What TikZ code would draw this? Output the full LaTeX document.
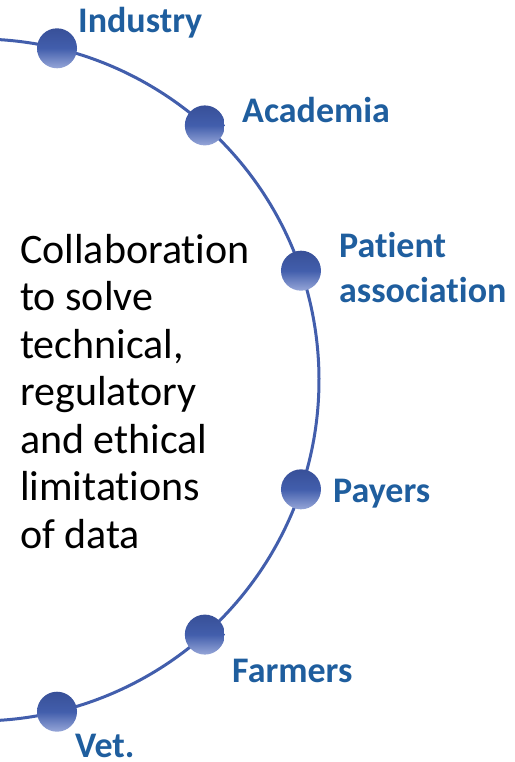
\documentclass[tikz,border=0pt]{standalone}
\usepackage{fontspec}
\setmainfont{Carlito}[Ligatures=NoCommon]
\usetikzlibrary{positioning}
\definecolor{arcblue}{RGB}{66,94,172}
\definecolor{labelblue}{RGB}{31,94,158}
\definecolor{balltop}{RGB}{56,80,152}
\definecolor{ballbottom}{RGB}{150,166,216}

\begin{document}
\begin{tikzpicture}[x=1pt, y=1pt,
    ball/.style={circle, minimum size=40pt, inner sep=0pt, top color=balltop, bottom color=ballbottom, middle color=arcblue},
    partner/.style={text=labelblue, font=\fontsize{36}{45}\selectfont\bfseries, inner sep=0pt, align=left}]
    \useasboundingbox (0,0) rectangle (514,-762);

    % Arc of partners
    \coordinate (c) at (-22,-380);
    \begin{scope}
        \clip (0,0) rectangle (514,-762);
        \draw[arcblue, line width=3pt] (c) ++(95:341) arc (95:-95:341);
    \end{scope}

    % Balls on the arc
    \node[ball] (industry) at ([shift={(76.6:341)}]c) {};
    \node[ball] (academia) at ([shift={(48.3:341)}]c) {};
    \node[ball] (patient) at ([shift={(18.7:341)}]c) {};
    \node[ball] (payers) at ([shift={(-18.7:341)}]c) {};
    \node[ball] (farmers) at ([shift={(-48.3:341)}]c) {};
    \node[ball] (vet) at ([shift={(-76.6:341)}]c) {};

    % Labels (base = last line)
    \node[partner, anchor=base west] (industrytxt) at (78,-33) {Industry};
    \node[partner, anchor=base west] (academiatxt) at (242,-123) {Academia};
    \node[partner, anchor=base west] (patienttxt) at (339,-302) {Patient\\association};
    \node[partner, anchor=base west] (payerstxt) at (333,-502) {Payers};
    \node[partner, anchor=base west] (farmerstxt) at (232,-682) {Farmers};
    \node[partner, anchor=base west] (vettxt) at (75,-757) {Vet.};

    % Centre text
    \node[anchor=base west, align=left, inner sep=0pt, font=\fontsize{42}{47.5}\selectfont] (goal) at (20,-548)
        {Collaboration\\to solve\\technical,\\regulatory\\and ethical\\limitations\\of data};
\end{tikzpicture}
\end{document}
